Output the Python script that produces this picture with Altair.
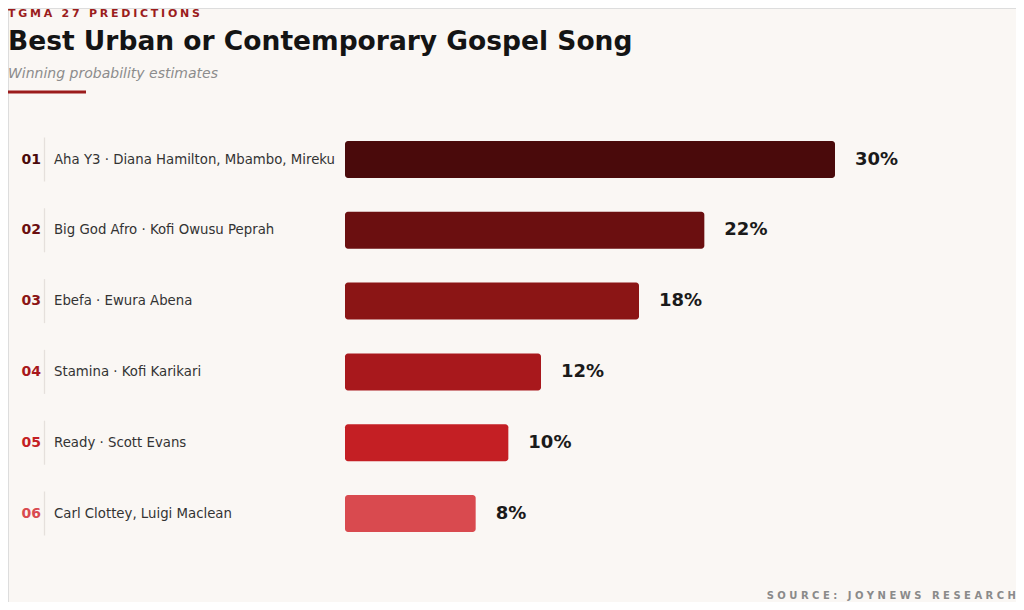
import altair as alt
import pandas as pd

ranks = ["01", "02", "03", "04", "05", "06"]
nominees = [
    "Aha Y3 · Diana Hamilton, Mbambo, Mireku",
    "Big God Afro · Kofi Owusu Peprah",
    "Ebefa · Ewura Abena",
    "Stamina · Kofi Karikari",
    "Ready · Scott Evans",
    "Carl Clottey, Luigi Maclean",
]
probabilities = [30, 22, 18, 12, 10, 8]
colors = ["#4a0a0b", "#6b0f10", "#8b1515", "#a8181c", "#c41f24", "#d94a4f"]

kicker = "TGMA 27 PREDICTIONS"
title = "Best Urban or Contemporary Gospel Song"
subtitle = "Winning probability estimates"
source = "SOURCE: JOYNEWS RESEARCH"

NB = "\u00a0"
QS = "\u2005"


def spaced(s, gap=NB):
    return (gap + NB + gap).join(gap.join(list(w)) for w in s.split(" "))


df = pd.DataFrame({
    "rank": ranks,
    "nominee": nominees,
    "prob": probabilities,
    "label": [f"{p}%" for p in probabilities],
})

FONT = "DejaVu Sans"
W, H = 1008, 594

yscale = alt.Scale(domain=ranks, range=[116.1, 540.9], paddingInner=0.477, paddingOuter=0.2385)
xscale = alt.Scale(domain=[0, 30], range=[337, 827])
color_scale = alt.Scale(domain=ranks, range=colors)

base = alt.Chart(df)

bars = base.mark_bar(cornerRadius=3).encode(
    x=alt.X("prob:Q", scale=xscale, axis=None),
    x2=alt.X2(datum=0),
    y=alt.Y("rank:O", scale=yscale, axis=None),
    color=alt.Color("rank:O", scale=color_scale, legend=None),
)

values = base.mark_text(
    align="left", baseline="middle", dx=20, font=FONT, fontSize=18, fontWeight="bold", color="#1a1a1a"
).encode(
    x=alt.X("prob:Q", scale=xscale, axis=None),
    y=alt.Y("rank:O", scale=yscale, axis=None),
    text="label:N",
)

rank_text = base.mark_text(
    align="right", baseline="middle", font=FONT, fontSize=14, fontWeight="bold"
).encode(
    x=alt.value(33),
    y=alt.Y("rank:O", scale=yscale, axis=None),
    text="rank:N",
    color=alt.Color("rank:O", scale=color_scale, legend=None),
)

sep = base.mark_tick(orient="vertical", size=44, thickness=1.2, color="#dcd5d1").encode(
    x=alt.value(36.5),
    y=alt.Y("rank:O", scale=yscale, axis=None),
)

names = base.mark_text(
    align="left", baseline="middle", font=FONT, fontSize=13.3, color="#333333"
).encode(
    x=alt.value(46),
    y=alt.Y("rank:O", scale=yscale, axis=None),
    text="nominee:N",
)

one = alt.Data(values=[{}])

kicker_t = alt.Chart(one).mark_text(
    text=spaced(kicker, QS), align="left", baseline="alphabetic", font=FONT, fontSize=11,
    fontWeight="bold", color="#9b1c1c"
).encode(x=alt.value(0), y=alt.value(9))

title_t = alt.Chart(one).mark_text(
    text=title, align="left", baseline="alphabetic", font=FONT, fontSize=26.5,
    fontWeight="bold", color="#141414"
).encode(x=alt.value(0), y=alt.value(42))

subtitle_t = alt.Chart(one).mark_text(
    text=subtitle, align="left", baseline="alphabetic", font=FONT, fontSize=14,
    fontStyle="italic", color="#8c8c8c"
).encode(x=alt.value(0), y=alt.value(70))

underline = alt.Chart(one).mark_rule(color="#9b1c1c", strokeWidth=3).encode(
    x=alt.value(0), x2=alt.value(78), y=alt.value(84)
)

source_t = alt.Chart(one).mark_text(
    text=spaced(source), align="right", baseline="middle", font=FONT, fontSize=10,
    fontWeight="bold", color="#8a8a8a"
).encode(x=alt.value(1008), y=alt.value(588))

chart = alt.layer(
    sep, bars, values, rank_text, names, kicker_t, title_t, subtitle_t, underline, source_t
).properties(
    width=W, height=H, padding=0, autosize=alt.AutoSizeParams(type="none")
).configure_view(stroke=None).configure(background="#faf7f4")

chart.save("out.html", embed_options={"renderer": "svg", "actions": False})
